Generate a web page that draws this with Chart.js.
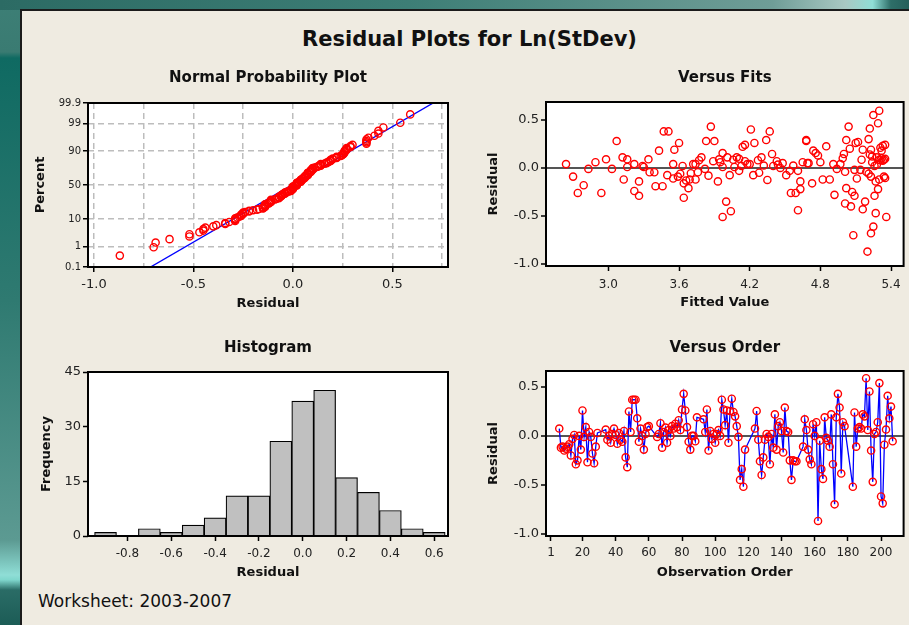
<!DOCTYPE html>
<html>
<head>
<meta charset="utf-8">
<script src="https://cdn.jsdelivr.net/npm/chart.js@4.4.1/dist/chart.umd.min.js"></script>
<style>
  html, body { margin: 0; padding: 0; }
  body {
    width: 909px; height: 625px; overflow: hidden; position: relative;
    background: linear-gradient(to bottom, #3d7f76 0px, #3a7b72 52px, #0f6a62 58px, #2f7a71 300px, #5c9a92 540px, #8fded6 575px, #7fd6cc 580px, #2a6c66 590px, #1c5c56 625px);
    font-family: "DejaVu Sans", sans-serif;
  }
  #topband {
    position: absolute; left: 0; top: 0; width: 909px; height: 10px;
    background: linear-gradient(to right, #2c6b64 0%, #3d7e76 45%, #6f9d97 85%, #a9c8c3 93%, #8fded6 96%, #2e6e68 98%, #245f5a 100%);
  }
  #panel {
    position: absolute; left: 20px; top: 9px; width: 895px; height: 620px;
    background: #efebe1; border-left: 2px solid #1b1b1b; border-top: 2px solid #1b1b1b;
    box-sizing: border-box;
  }
  #title {
    position: absolute; left: 20px; width: 899px; top: 27px;
    text-align: center; font: bold 21px "DejaVu Sans", sans-serif; color: #111;
  }
  #sheet {
    position: absolute; left: 38px; top: 591px;
    font: 17px "DejaVu Sans", sans-serif; color: #111;
  }
  canvas { position: absolute; }
</style>
</head>
<body>
<div id="topband"></div>
<div id="panel"></div>
<div id="title">Residual Plots for Ln(StDev)</div>
<canvas id="npp" width="430" height="260" style="left:28px;top:62px"></canvas>
<canvas id="fits" width="439" height="260" style="left:470px;top:62px"></canvas>
<canvas id="hist" width="430" height="260" style="left:28px;top:330px"></canvas>
<canvas id="order" width="439" height="260" style="left:470px;top:330px"></canvas>
<div id="sheet">Worksheet: 2003-2007</div>
<script>
// residuals by observation order (null = observation not in the fit)
const orderResid = [
  null, null, null, null, null,
  0.075, -0.12, -0.11, -0.15, -0.13, -0.11, -0.085, -0.20, -0.03, 0.01,
  -0.29, -0.25, 0.00, -0.14, 0.26, -0.01, 0.09, -0.27, 0.04, -0.01,
  -0.18, -0.28, -0.11, 0.03,
  null, null, null, null,
  0.065, -0.04, 0.00, -0.07, 0.02, 0.075, 0.01, -0.08, 0.03, -0.04,
  -0.06, 0.05, -0.22, -0.32, 0.25, 0.04, 0.37, 0.37, 0.37, 0.18,
  -0.06, 0.075, 0.00, -0.14, 0.02, 0.09, 0.10,
  null, null, null, null,
  -0.01, 0.02, 0.13, -0.12, 0.04, 0.085, -0.07, 0.06, 0.00, 0.10,
  0.075, 0.125, 0.09, 0.16, 0.06, 0.27, 0.43, 0.26, 0.09, -0.06,
  -0.14, 0.00, 0.00, -0.055, 0.19,
  null, null, null,
  0.17, 0.04, 0.27, -0.15, 0.05, -0.03, 0.02, -0.07, 0.02, 0.06,
  0.00, 0.37, 0.27, 0.11, 0.26, -0.07, 0.255, 0.38, 0.245, 0.20,
  0.10, -0.01, -0.45, -0.34, -0.52, -0.14,
  null, null, null, null, null,
  0.075, 0.255, -0.04, -0.26, -0.40, -0.22, -0.04, 0.02, -0.01, -0.29,
  0.02, -0.12, 0.22, -0.14, 0.10, 0.14, 0.05, -0.17, 0.29, 0.05,
  0.04, -0.25, -0.45, -0.25, -0.26, -0.26,
  null, null, null,
  -0.11, 0.17, 0.06, -0.14, -0.24, -0.29, 0.12, 0.00, 0.14, -0.87,
  -0.05, -0.34, -0.44, 0.19, -0.02, -0.05, -0.11, 0.22, -0.29, -0.70,
  0.19, 0.43, 0.29, -0.385, 0.14, 0.10,
  null, null, null, null,
  -0.52, 0.24, -0.11, 0.075, 0.09, 0.075, 0.22, 0.20, 0.59, 0.06,
  0.455, -0.15, -0.47, 0.02, 0.04, 0.14, 0.54, -0.62, -0.69, -0.09,
  0.065, 0.41, 0.18, 0.30, -0.055
];

// versus fits panel
const fitted = [
  2.64, 2.70, 2.74, 2.79, 2.83, 2.89, 2.94, 2.98, 3.03, 3.07,
  3.12, 3.13, 3.16, 3.16, 3.22, 3.22, 3.26, 3.26, 3.29, 3.30,
  3.34, 3.35, 3.39, 3.40, 3.43, 3.46, 3.47, 3.51, 3.50, 3.55,
  3.55, 3.56, 3.60, 3.59, 3.61, 3.63, 3.64, 3.64, 3.66, 3.68,
  3.69, 3.70, 3.72, 3.74, 3.74, 3.76, 3.77, 3.79, 3.82, 3.83,
  3.85, 3.87, 3.89, 3.90, 3.93, 3.94, 3.95, 3.97, 3.97, 3.97,
  4.00, 4.01, 4.03, 4.04, 4.06, 4.07, 4.09, 4.11, 4.11, 4.13,
  4.14, 4.16, 4.16, 4.18, 4.20, 4.21, 4.23, 4.24, 4.27, 4.28,
  4.30, 4.32, 4.34, 4.35, 4.37, 4.39, 4.40, 4.43, 4.44, 4.46,
  4.48, 4.51, 4.54, 4.55, 4.57, 4.59, 4.61, 4.61, 4.63, 4.63,
  4.65, 4.68, 4.68, 4.69, 4.70, 4.73, 4.74, 4.76, 4.78, 4.80,
  4.82, 4.85, 4.88, 4.91, 4.92, 4.94, 4.97, 4.99, 5.00, 5.01,
  5.01, 5.02, 5.02, 5.04, 5.05, 5.06, 5.07, 5.08, 5.09, 5.09,
  5.10, 5.11, 5.12, 5.14, 5.15, 5.16, 5.16, 5.18, 5.19, 5.20,
  5.21, 5.21, 5.22, 5.22, 5.23, 5.23, 5.23, 5.24, 5.24, 5.25,
  5.25, 5.26, 5.26, 5.27, 5.27, 5.28, 5.28, 5.29, 5.29, 5.30,
  5.30, 5.30, 5.31, 5.31, 5.32, 5.32, 5.33, 5.33, 5.34, 5.34,
  5.35, 5.35, 5.35, 5.36
];
const fitResid = [
  0.04, -0.09, -0.26, -0.18, -0.01, 0.06, -0.26, 0.09, -0.01, 0.28,
  0.11, -0.12, 0.09, 0.01, 0.04, -0.24, -0.14, -0.29, 0.02, 0.01,
  0.09, -0.045, -0.045, -0.19, 0.18, -0.19, 0.38, 0.38, -0.075, 0.04,
  -0.11, 0.19, 0.26, -0.09, -0.06, 0.02, -0.16, -0.31, -0.13, -0.21,
  -0.12, -0.055, 0.04, -0.12, 0.04, -0.045, 0.08, 0.11, -0.01, 0.28,
  -0.08, 0.43, 0.07, 0.28, -0.14, 0.09, 0.06, 0.155, 0.01, -0.51,
  -0.35, 0.11, -0.075, -0.45, 0.085, 0.01, 0.11, 0.095, -0.03, 0.02,
  0.22, 0.07, 0.24, 0.04, 0.04, 0.40, -0.075, 0.26, 0.08, -0.05,
  0.11, 0.025, 0.29, -0.125, 0.38, 0.145, 0.02, 0.07, 0.035, 0.00,
  0.05, -0.075, -0.03, -0.26, 0.025, -0.26, -0.44, -0.03, -0.22, -0.14,
  0.06, 0.29, 0.28, 0.05, 0.05, -0.16, 0.18, 0.155, 0.13, 0.06,
  -0.12, 0.225, -0.12, 0.04, -0.28, -0.01, 0.04, 0.10, 0.145, -0.04,
  -0.37, 0.29, -0.21, 0.43, 0.20, -0.40, -0.25, -0.70, -0.02, -0.29,
  0.26, -0.11, 0.27, -0.02, 0.085, 0.19, -0.43, -0.35, -0.04, -0.87,
  -0.06, 0.30, 0.14, 0.41, -0.09, 0.19, -0.68, 0.06, 0.12, 0.55,
  -0.61, 0.02, -0.29, -0.14, -0.47, 0.035, 0.11, 0.465, -0.22, 0.085,
  0.595, -0.12, 0.21, 0.08, 0.18, 0.10, 0.23, 0.075, 0.085, -0.09,
  0.095, -0.105, 0.24, -0.51
];

// histogram
const histCenters = [-0.9, -0.8, -0.7, -0.6, -0.5, -0.4, -0.3, -0.2, -0.1, 0.0, 0.1, 0.2, 0.3, 0.4, 0.5, 0.6];
const histCounts  = [1, 0, 2, 1, 3, 5, 11, 11, 26, 37, 40, 16, 12, 7, 2, 1];

// normal probability plot reference line (mean, st.dev of residuals)
const npLineMean = -0.005;
const npLineSd = 0.23;

// tick values
const npPercentTicks = [0.1, 1, 10, 50, 90, 99, 99.9];
const npXTicks = [-1.0, -0.75, -0.5, -0.25, 0.0, 0.25, 0.5, 0.75];
const residTicks = [-1.0, -0.5, 0.0, 0.5];
const fitsXTicks = [3.0, 3.6, 4.2, 4.8, 5.4];
const histXTicks = [-0.8, -0.6, -0.4, -0.2, 0.0, 0.2, 0.4, 0.6];
const histYTicks = [0, 15, 30, 45];
const orderXTicks = [1, 20, 40, 60, 80, 100, 120, 140, 160, 180, 200];

const FONT = '"DejaVu Sans", sans-serif';
Chart.defaults.font.family = FONT;
Chart.defaults.color = '#222';

const normInv = (p) => {
  const a = [-39.69683028665376, 220.9460984245205, -275.9285104469687, 138.3577518672690, -30.66479806614716, 2.506628277459239];
  const b = [-54.47609879822406, 161.5858368580409, -155.6989798598866, 66.80131188771972, -13.28068155288572];
  const c = [-0.007784894002430293, -0.3223964580411365, -2.400758277161838, -2.549671010115819, 4.374664141464968, 2.938163982698783];
  const d = [0.007784695709041462, 0.3224671290700398, 2.445134137142996, 3.754408661907416];
  const lo = 0.02425;
  if (p < lo || p > 1 - lo) {
    const q = Math.sqrt(-2 * Math.log(p < lo ? p : 1 - p));
    const v = (((((c[0]*q + c[1])*q + c[2])*q + c[3])*q + c[4])*q + c[5]) / ((((d[0]*q + d[1])*q + d[2])*q + d[3])*q + 1);
    return p < lo ? v : -v;
  }
  const q = p - 0.5, r = q * q;
  return (((((a[0]*r + a[1])*r + a[2])*r + a[3])*r + a[4])*r + a[5])*q / (((((b[0]*r + b[1])*r + b[2])*r + b[3])*r + b[4])*r + 1);
}

// white plot area + black frame round it
const plotFrame = {
  id: 'plotFrame',
  beforeDraw(chart) {
    const { ctx, chartArea: a } = chart;
    ctx.save();
    ctx.fillStyle = '#ffffff';
    ctx.fillRect(a.left, a.top, a.right - a.left, a.bottom - a.top);
    ctx.restore();
  },
  afterDraw(chart) {
    const { ctx, chartArea: a } = chart;
    ctx.save();
    ctx.strokeStyle = '#000';
    ctx.lineWidth = 2;
    ctx.strokeRect(a.left, a.top, a.right - a.left, a.bottom - a.top);
    ctx.restore();
  }
};

// panel title centred over the plot area
const panelTitle = {
  id: 'panelTitle',
  afterDraw(chart, args, opts) {
    const { ctx, chartArea: a } = chart;
    ctx.save();
    ctx.font = 'bold 15px ' + FONT;
    ctx.fillStyle = '#111';
    ctx.textAlign = 'center';
    ctx.textBaseline = 'middle';
    ctx.fillText(opts.text, (a.left + a.right) / 2, opts.y);
    ctx.restore();
  }
};

const setTicks = (values) => (scale) => {
  scale.ticks = values.map(v => ({ value: v }));
};
const fixWidth = (w) => (scale) => { scale.width = w; };
const fixHeight = (h) => (scale) => { scale.height = h; };

const axisTitle = (text, pad) => ({
  display: true, text, color: '#111',
  font: { family: FONT, size: 13, weight: 'bold' },
  padding: pad
});

const baseOptions = (padTop, padRight, title, titleY) => ({
  responsive: false,
  animation: false,
  events: [],
  layout: { padding: { top: padTop, right: padRight, left: 0, bottom: 0 } },
  plugins: {
    legend: { display: false },
    tooltip: { enabled: false },
    panelTitle: { text: title, y: titleY }
  }
});

const residYAxis = (min, max, width) => ({
  type: 'linear', min, max,
  afterBuildTicks: setTicks(residTicks),
  afterFit: fixWidth(width),
  border: { display: false },
  grid: {
    color: (c) => c.tick && c.tick.value === 0 ? '#555' : 'rgba(0,0,0,0)',
    lineWidth: 2, tickLength: 5, tickColor: '#000', tickWidth: 1.5
  },
  ticks: { font: { size: 13 }, padding: 2, autoSkip: false, callback: (v) => v.toFixed(1) },
  title: axisTitle('Residual', { top: 15.5, bottom: 0 })
});

const redCircle = {
  pointRadius: 3.6,
  pointBorderWidth: 1.4,
  pointBorderColor: '#ff0000',
  pointBackgroundColor: 'rgba(0,0,0,0)'
};

// ---- Normal probability plot ----
const residSorted = orderResid.filter(v => v !== null).sort((a, b) => a - b);
const nRes = residSorted.length;
const npPoints = residSorted.map((r, i) => ({ x: r, y: normInv((i + 1 - 0.3) / (nRes + 0.4)) }));
const zMin = normInv(npPercentTicks[0] / 100);
const zMax = normInv(npPercentTicks[npPercentTicks.length - 1] / 100);
const npLine = [
  { x: npLineMean + npLineSd * zMin, y: zMin },
  { x: npLineMean + npLineSd * zMax, y: zMax }
];

new Chart(document.getElementById('npp'), {
  type: 'scatter',
  data: {
    datasets: [
      { data: npPoints, ...redCircle },
      { type: 'line', data: npLine, borderColor: '#0000ff', borderWidth: 1.4, pointRadius: 0 }
    ]
  },
  options: {
    ...baseOptions(41, 10, 'Normal Probability Plot', 16.3),
    scales: {
      x: {
        type: 'linear', min: -1.03, max: 0.78,
        afterBuildTicks: setTicks(npXTicks),
        afterFit: fixHeight(55),
        border: { display: false, dash: [6, 4] },
        grid: {
          color: '#bdbdbd', lineWidth: 1.5, tickLength: 5, tickWidth: 1.5,
          tickColor: (c) => c.tick && Math.abs(c.tick.value * 2 - Math.round(c.tick.value * 2)) < 1e-6 ? '#000' : 'rgba(0,0,0,0)'
        },
        ticks: {
          font: { size: 13 }, padding: 5, autoSkip: false, maxRotation: 0,
          callback: (v) => Math.abs(v * 2 - Math.round(v * 2)) < 1e-6 ? v.toFixed(1) : ''
        },
        title: axisTitle('Residual', { top: 0, bottom: 10.5 })
      },
      y: {
        type: 'linear', min: zMin, max: zMax,
        afterBuildTicks: setTicks(npPercentTicks.map(p => normInv(p / 100))),
        afterFit: fixWidth(60),
        border: { display: false, dash: [6, 4] },
        grid: { color: '#bdbdbd', lineWidth: 1.5, tickLength: 5, tickColor: '#000', tickWidth: 1.5 },
        ticks: {
          font: { size: 10 }, padding: 2, autoSkip: false,
          callback: (v, i) => String(npPercentTicks[i])
        },
        title: axisTitle('Percent', { top: 4.5, bottom: 0 })
      }
    }
  },
  plugins: [plotFrame, panelTitle]
});

// ---- Versus fits ----
new Chart(document.getElementById('fits'), {
  type: 'scatter',
  data: {
    datasets: [{ data: fitted.map((f, i) => ({ x: f, y: fitResid[i] })), ...redCircle }]
  },
  options: {
    ...baseOptions(40, 4, 'Versus Fits', 16.3),
    scales: {
      x: {
        type: 'linear', min: 2.47, max: 5.507,
        afterBuildTicks: setTicks(fitsXTicks),
        afterFit: fixHeight(56),
        border: { display: false },
        grid: { drawOnChartArea: false, tickLength: 5, tickColor: '#000', tickWidth: 1.5 },
        ticks: { font: { size: 12 }, padding: 7, autoSkip: false, maxRotation: 0, callback: (v) => v.toFixed(1) },
        title: axisTitle('Fitted Value', { top: 0, bottom: 11.5 })
      },
      y: residYAxis(-1.02, 0.686, 76)
    }
  },
  plugins: [plotFrame, panelTitle]
});

// ---- Histogram ----
new Chart(document.getElementById('hist'), {
  type: 'bar',
  data: {
    datasets: [{
      data: histCenters.map((c, i) => ({ x: c, y: histCounts[i] })),
      backgroundColor: '#c0c0c0', borderColor: '#000', borderWidth: 1.2,
      barPercentage: 1, categoryPercentage: 1
    }]
  },
  options: {
    ...baseOptions(42, 10, 'Histogram', 18.3),
    scales: {
      x: {
        type: 'linear', min: -0.98, max: 0.663, offset: false,
        afterBuildTicks: setTicks(histXTicks),
        afterFit: fixHeight(54),
        border: { display: false },
        grid: { offset: false, drawOnChartArea: false, tickLength: 5, tickColor: '#000', tickWidth: 1.5 },
        ticks: { font: { size: 12 }, padding: 6, autoSkip: false, maxRotation: 0, callback: (v) => v.toFixed(1) },
        title: axisTitle('Residual', { top: 0, bottom: 9.9 })
      },
      y: {
        type: 'linear', min: 0, max: 45,
        afterBuildTicks: setTicks(histYTicks),
        afterFit: fixWidth(60),
        border: { display: false },
        grid: { drawOnChartArea: false, tickLength: 5, tickColor: '#000', tickWidth: 1.5 },
        ticks: { font: { size: 13 }, padding: 2, autoSkip: false },
        title: axisTitle('Frequency', { top: 10.9, bottom: 0 })
      }
    }
  },
  plugins: [plotFrame, panelTitle]
});

// ---- Versus order ----
const orderPoints = orderResid
  .map((r, i) => ({ x: i + 1, y: r }))
  .filter(p => p.y !== null);

new Chart(document.getElementById('order'), {
  type: 'line',
  data: {
    datasets: [{ data: orderPoints, borderColor: '#0000ff', borderWidth: 1.3, ...redCircle }]
  },
  options: {
    ...baseOptions(41, 4, 'Versus Order', 18.3),
    scales: {
      x: {
        type: 'linear', min: -2, max: 213.6,
        afterBuildTicks: setTicks(orderXTicks),
        afterFit: fixHeight(54),
        border: { display: false },
        grid: { drawOnChartArea: false, tickLength: 5, tickColor: '#000', tickWidth: 1.5 },
        ticks: { font: { size: 12 }, padding: 5, autoSkip: false, maxRotation: 0 },
        title: axisTitle('Observation Order', { top: 0, bottom: 9.9 })
      },
      y: residYAxis(-1.024, 0.664, 76)
    }
  },
  plugins: [plotFrame, panelTitle]
});
</script>
</body>
</html>
